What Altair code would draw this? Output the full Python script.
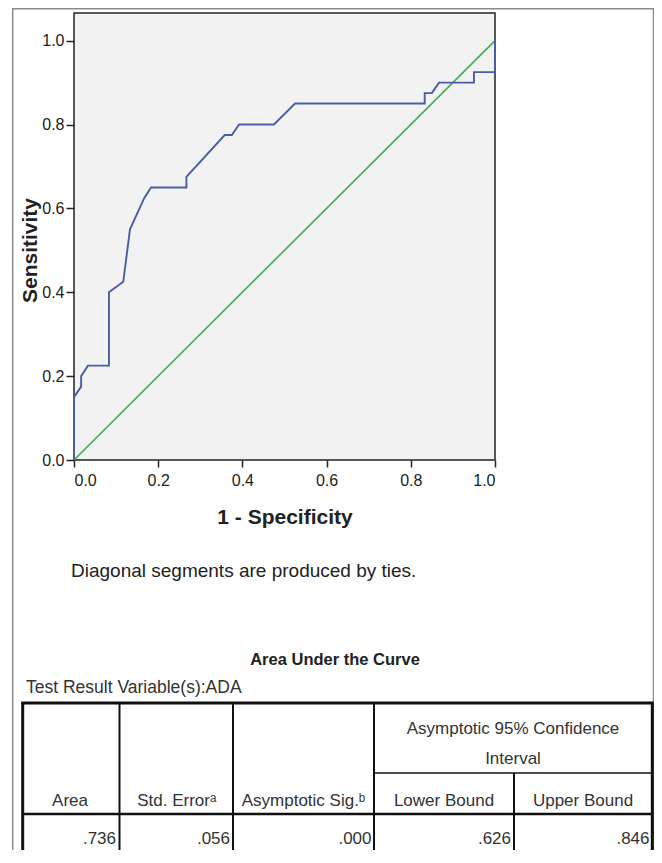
import altair as alt
import pandas as pd

# ---- data ----
fpr = [0.0, 0.0, 0.017, 0.017, 0.033, 0.083, 0.083, 0.117, 0.133, 0.167, 0.183,
       0.267, 0.267, 0.358, 0.375, 0.392, 0.475, 0.525, 0.833, 0.833, 0.850,
       0.867, 0.950, 0.950, 1.0, 1.0]
tpr = [0.0, 0.15, 0.175, 0.2, 0.225, 0.225, 0.4, 0.425, 0.55, 0.625, 0.65,
       0.65, 0.675, 0.775, 0.775, 0.8, 0.8, 0.85, 0.85, 0.875, 0.875,
       0.9, 0.9, 0.925, 0.925, 1.0]
ref_x = [0.0, 1.0]
ref_y = [0.0, 1.0]
tick_vals = [0.0, 0.2, 0.4, 0.6, 0.8, 1.0]

col_headers = ["Area", "Std. Error\u1d43", "Asymptotic Sig.\u1d47", "Lower Bound", "Upper Bound"]
group_header = ["Asymptotic 95% Confidence", "Interval"]
auc_values = [".736", ".056", ".000", ".626", ".846"]

FONT = "Liberation Sans"
BLUE = "#4b5ca6"
GREEN = "#3fae49"
INK = "#222222"
TXT = "#333333"

roc = pd.DataFrame({"fpr": fpr, "tpr": tpr, "i": list(range(len(fpr)))})
diag = pd.DataFrame({"fpr": ref_x, "tpr": ref_y})
one = alt.Data(values=[{"k": 1}])

W, H = 421, 447
xs = alt.Scale(domain=[0, 1], nice=False, zero=False)
ys = alt.Scale(domain=[0, 1.066], nice=False, zero=False)

xax = alt.Axis(values=tick_vals, format=".1f", grid=False, domain=False,
               tickSize=7, tickColor=INK, tickWidth=1.5, labelPadding=5,
               labelFontSize=16, labelFont=FONT, labelColor=INK,
               title="1 - Specificity", titleFont=FONT, titleFontSize=21,
               titleFontWeight="bold", titleColor=INK, titleY=57,
               titleBaseline="middle")
yax = alt.Axis(values=tick_vals, format=".1f", grid=False, domain=False,
               tickSize=8, tickColor=INK, tickWidth=1.5, labelPadding=2,
               labelFontSize=16, labelFont=FONT, labelColor=INK,
               title="Sensitivity", titleFont=FONT, titleFontSize=21,
               titleFontWeight="bold", titleColor=INK, titleAngle=270,
               titleX=-44, titleY=237, titleAlign="center", titleBaseline="middle")

diag_line = alt.Chart(diag).mark_line(color=GREEN, strokeWidth=1.6).encode(
    x=alt.X("fpr:Q", scale=xs, axis=xax),
    y=alt.Y("tpr:Q", scale=ys, axis=yax),
)
roc_line = alt.Chart(roc).mark_line(color=BLUE, strokeWidth=1.9).encode(
    x=alt.X("fpr:Q", scale=xs),
    y=alt.Y("tpr:Q", scale=ys),
    order="i:Q",
)


def txt(s, x, y, size, align="left", weight="normal", color=INK):
    return alt.Chart(one).mark_text(
        text=s, align=align, baseline="middle", fontSize=size,
        fontWeight=weight, font=FONT, color=color
    ).encode(x=alt.value(x), y=alt.value(y))


def hline(x1, x2, y, w=1.5, color="#111111"):
    return alt.Chart(one).mark_rule(strokeWidth=w, color=color).encode(
        x=alt.value(x1), x2=alt.value(x2), y=alt.value(y))


def vline(x, y1, y2, w=1.5, color="#111111"):
    return alt.Chart(one).mark_rule(strokeWidth=w, color=color).encode(
        x=alt.value(x), y=alt.value(y1), y2=alt.value(y2))


frame = alt.Chart(one).mark_rect(fill=None, stroke="#8a8a8a", strokeWidth=1.5).encode(
    x=alt.value(-61.3), x2=alt.value(579.5), y=alt.value(-4.2), y2=alt.value(900))

layers = [frame, diag_line, roc_line]

layers.append(txt("Diagonal segments are produced by ties.", -3, 557.7, 19))
layers.append(txt("Area Under the Curve", 261, 646.7, 16.5, align="center", weight="bold"))
layers.append(txt("Test Result Variable(s):ADA", -48, 674.5, 17.5, color=TXT))

# table grid
TL, TR, TT = -51.3, 578.3, 690
col_x = [45.5, 159, 300]
layers.append(hline(TL - 1.5, TR + 1.5, TT, w=3))
layers.append(vline(TL, TT, 900, w=3))
layers.append(vline(TR, TT, 900, w=3))
for cx in col_x:
    layers.append(vline(cx, TT, 900, w=2))
layers.append(vline(440, 760, 900, w=2))
layers.append(hline(300, TR, 760, w=1.5))
layers.append(hline(TL, TR, 801, w=2.5))

# table text
layers.append(txt(group_header[0], 439, 715.7, 17, align="center", color=TXT))
layers.append(txt(group_header[1], 439, 746, 17, align="center", color=TXT))
head_x = [-4, 102.7, 229.5, 370, 509]
for s, hx in zip(col_headers, head_x):
    layers.append(txt(s, hx, 787.5, 17, align="center", color=TXT))
val_x = [42, 156, 297.5, 437, 575.5]
for s, vx in zip(auc_values, val_x):
    layers.append(txt(s, vx, 826, 17, align="right", color=TXT))

chart = alt.layer(*layers).properties(
    width=W, height=H,
    padding={"left": 66, "top": 5, "right": 159, "bottom": 390},
    autosize=alt.AutoSizeParams(type="none"),
    background="white",
).configure_view(stroke=INK, strokeWidth=1.5, fill="#f2f2f2")

chart.save("out.html", embed_options={"renderer": "svg", "actions": False})
